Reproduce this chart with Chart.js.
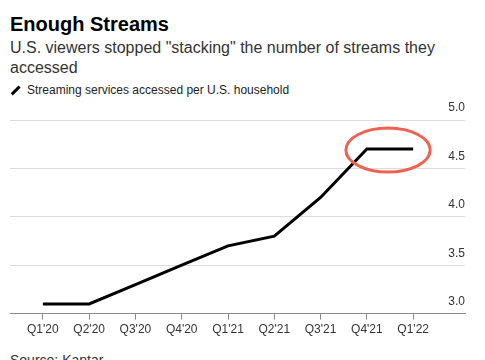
<!DOCTYPE html>
<html>
<head>
<meta charset="utf-8">
<script src="https://cdn.jsdelivr.net/npm/chart.js@4/dist/chart.umd.min.js"></script>
<style>
  html, body { margin: 0; padding: 0; background: #fff; }
  body { width: 485px; height: 360px; position: relative; overflow: hidden; font-family: "Liberation Sans", Arial, sans-serif; }
  #title { position: absolute; left: 10px; top: 13px; font-size: 20px; font-weight: bold; color: #000; }
  #subtitle { position: absolute; left: 10px; top: 38px; width: 440px; font-size: 16px; line-height: 20px; color: #333; }
  #legend { position: absolute; left: 10px; top: 83px; font-size: 12px; color: #222; }
  #legend .mark { display: inline-block; width: 11px; height: 2.5px; background: #000; transform: rotate(-45deg); vertical-align: middle; margin-right: 6px; position: relative; top: -1px; }
  #source { position: absolute; left: 10px; top: 352px; font-size: 14px; color: #333; }
  #wrap { position: absolute; left: 0; top: 100px; width: 485px; height: 240px; }
</style>
</head>
<body>
<div id="title">Enough Streams</div>
<div id="subtitle">U.S. viewers stopped "stacking" the number of streams they accessed</div>
<div id="legend"><span class="mark"></span>Streaming services accessed per U.S. household</div>
<div id="wrap"><canvas id="chart"></canvas></div>
<div id="source">Source: Kantar</div>
<script>
var quarters = ["Q1'20", "Q2'20", "Q3'20", "Q4'20", "Q1'21", "Q2'21", "Q3'21", "Q4'21", "Q1'22"];
var servicesPerHousehold = [3.1, 3.1, 3.3, 3.5, 3.7, 3.8, 4.2, 4.7, 4.7];
var yTicks = [3.0, 3.5, 4.0, 4.5, 5.0];

// red ellipse round the flat last stretch
var circlePlugin = {
  id: 'circleFlat',
  afterDatasetsDraw: function (chart) {
    var x = chart.scales.x, y = chart.scales.y;
    var n = servicesPerHousehold.length;
    var x1 = x.getPixelForValue(n - 2), x2 = x.getPixelForValue(n - 1);
    var cy = y.getPixelForValue(servicesPerHousehold[n - 1]) + 1;
    var ctx = chart.ctx;
    ctx.save();
    ctx.strokeStyle = '#f0624f';
    ctx.lineWidth = 3;
    ctx.beginPath();
    ctx.ellipse((x1 + x2) / 2 - 2, cy, (x2 - x1) / 2 + 19, 22, 0, 0, Math.PI * 2);
    ctx.stroke();
    ctx.restore();
  }
};

new Chart(document.getElementById('chart'), {
  type: 'line',
  data: {
    datasets: [{
      label: 'Streaming services accessed per U.S. household',
      data: servicesPerHousehold.map(function (v, i) { return { x: i, y: v }; }),
      borderColor: '#000',
      borderWidth: 3,
      pointRadius: 0,
      tension: 0,
      borderJoinStyle: 'miter'
    }]
  },
  options: {
    animation: false,
    responsive: true,
    maintainAspectRatio: false,
    layout: { padding: { left: 10, right: 20, top: 20, bottom: 0 } },
    plugins: {
      legend: { display: false },
      tooltip: { enabled: false }
    },
    scales: {
      x: {
        type: 'linear',
        min: -0.71,
        max: 9.12,
        afterBuildTicks: function (axis) {
          axis.ticks = quarters.map(function (q, i) { return { value: i }; });
        },
        ticks: {
          callback: function (v) { return quarters[v]; },
          color: '#333',
          font: { family: 'Liberation Sans', size: 12 },
          padding: 3,
          maxRotation: 0,
          autoSkip: false
        },
        grid: { drawOnChartArea: false, drawTicks: true, tickLength: 6, color: '#888' },
        border: { color: '#888', width: 1 }
      },
      y: {
        position: 'right',
        min: 3.0,
        max: 5.0,
        afterBuildTicks: function (axis) {
          axis.ticks = yTicks.map(function (v) { return { value: v }; });
        },
        ticks: {
          mirror: true,
          padding: 0,
          labelOffset: -12,
          color: '#333',
          font: { family: 'Liberation Sans', size: 12 },
          callback: function (v) { return v.toFixed(1); }
        },
        grid: { drawTicks: false, color: '#ddd', lineWidth: 1 },
        border: { display: false }
      }
    }
  },
  plugins: [circlePlugin]
});
</script>
</body>
</html>
